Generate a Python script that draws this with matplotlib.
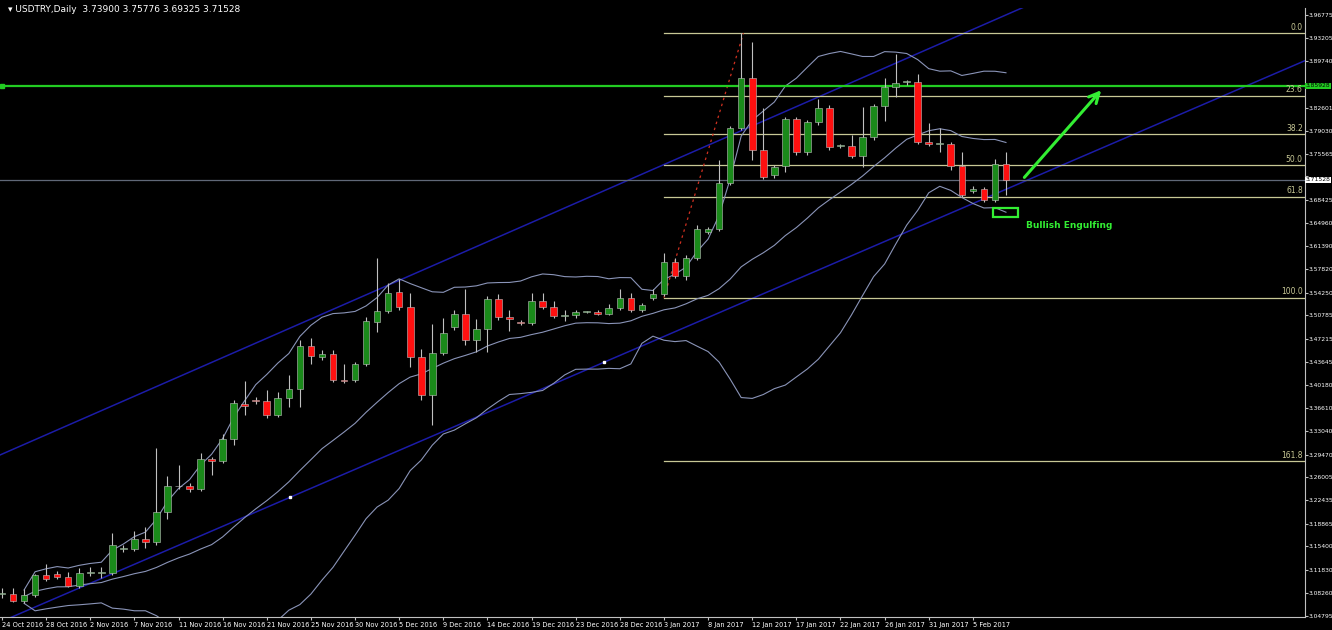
import matplotlib
matplotlib.use("Agg")
import matplotlib.pyplot as plt
import numpy as np
import pandas as pd

# USDTRY daily candles (bar 0 = 24 Oct 2016)
opens = [3.081, 3.081, 3.070, 3.079, 3.110, 3.112, 3.107, 3.093, 3.113, 3.113,
         3.113, 3.150, 3.150, 3.165, 3.161, 3.207, 3.246, 3.246, 3.242, 3.288,
         3.285, 3.318, 3.372, 3.378, 3.377, 3.355, 3.381, 3.395, 3.461, 3.444,
         3.449, 3.409, 3.409, 3.433, 3.498, 3.514, 3.543, 3.521, 3.444, 3.386,
         3.450, 3.490, 3.510, 3.470, 3.487, 3.533, 3.505, 3.498, 3.496, 3.530,
         3.521, 3.507, 3.508, 3.513, 3.513, 3.510, 3.519, 3.534, 3.516, 3.534,
         3.540, 3.590, 3.568, 3.595, 3.635, 3.640, 3.710, 3.795, 3.871, 3.761,
         3.723, 3.737, 3.808, 3.758, 3.804, 3.825, 3.767, 3.767, 3.752, 3.781,
         3.829, 3.858, 3.865, 3.865, 3.773, 3.770, 3.770, 3.737, 3.698, 3.701,
         3.685, 3.739]
highs = [3.090, 3.090, 3.089, 3.112, 3.127, 3.116, 3.115, 3.121, 3.122, 3.122,
         3.174, 3.156, 3.177, 3.184, 3.305, 3.262, 3.279, 3.251, 3.297, 3.291,
         3.326, 3.378, 3.407, 3.383, 3.393, 3.390, 3.416, 3.470, 3.473, 3.455,
         3.455, 3.433, 3.436, 3.505, 3.595, 3.557, 3.563, 3.542, 3.456, 3.494,
         3.504, 3.516, 3.548, 3.502, 3.537, 3.540, 3.516, 3.501, 3.542, 3.542,
         3.530, 3.516, 3.516, 3.514, 3.516, 3.525, 3.548, 3.542, 3.527, 3.548,
         3.603, 3.595, 3.600, 3.646, 3.643, 3.746, 3.798, 3.940, 3.926, 3.825,
         3.738, 3.811, 3.811, 3.807, 3.840, 3.830, 3.770, 3.784, 3.827, 3.832,
         3.871, 3.909, 3.868, 3.877, 3.802, 3.795, 3.773, 3.758, 3.706, 3.704,
         3.747, 3.758]
lows = [3.075, 3.069, 3.067, 3.076, 3.101, 3.104, 3.092, 3.090, 3.108, 3.105,
        3.110, 3.145, 3.147, 3.151, 3.156, 3.196, 3.242, 3.237, 3.239, 3.263,
        3.282, 3.309, 3.355, 3.372, 3.351, 3.352, 3.367, 3.367, 3.433, 3.440,
        3.406, 3.404, 3.406, 3.430, 3.482, 3.511, 3.516, 3.429, 3.378, 3.340,
        3.447, 3.485, 3.462, 3.452, 3.452, 3.501, 3.484, 3.493, 3.493, 3.518,
        3.504, 3.499, 3.504, 3.511, 3.508, 3.508, 3.516, 3.513, 3.513, 3.531,
        3.537, 3.565, 3.562, 3.593, 3.632, 3.637, 3.707, 3.792, 3.746, 3.717,
        3.719, 3.728, 3.753, 3.753, 3.799, 3.761, 3.764, 3.749, 3.735, 3.776,
        3.806, 3.842, 3.861, 3.770, 3.767, 3.758, 3.731, 3.689, 3.695, 3.682,
        3.682, 3.693]
closes = [3.082, 3.070, 3.079, 3.110, 3.104, 3.107, 3.093, 3.113, 3.114, 3.114,
          3.156, 3.151, 3.165, 3.161, 3.207, 3.246, 3.247, 3.242, 3.288, 3.285,
          3.318, 3.373, 3.369, 3.377, 3.355, 3.381, 3.395, 3.461, 3.446, 3.449,
          3.409, 3.408, 3.433, 3.499, 3.514, 3.542, 3.521, 3.444, 3.386, 3.450,
          3.481, 3.510, 3.470, 3.487, 3.533, 3.505, 3.502, 3.496, 3.530, 3.521,
          3.507, 3.508, 3.513, 3.513, 3.510, 3.519, 3.534, 3.516, 3.524, 3.540,
          3.590, 3.568, 3.595, 3.640, 3.640, 3.710, 3.795, 3.871, 3.761, 3.720,
          3.735, 3.808, 3.758, 3.804, 3.825, 3.766, 3.768, 3.752, 3.781, 3.829,
          3.858, 3.864, 3.866, 3.773, 3.770, 3.771, 3.737, 3.692, 3.701, 3.685,
          3.739, 3.71528]

date_labels = ["24 Oct 2016", "28 Oct 2016", "2 Nov 2016", "7 Nov 2016", "11 Nov 2016",
               "16 Nov 2016", "21 Nov 2016", "25 Nov 2016", "30 Nov 2016", "5 Dec 2016",
               "9 Dec 2016", "14 Dec 2016", "19 Dec 2016", "23 Dec 2016", "28 Dec 2016",
               "3 Jan 2017", "8 Jan 2017", "12 Jan 2017", "17 Jan 2017", "22 Jan 2017",
               "26 Jan 2017", "31 Jan 2017", "5 Feb 2017"]
price_ticks = [3.96775, 3.93205, 3.89740, 3.86260, 3.82601, 3.79030, 3.75565, 3.72100,
               3.68425, 3.64960, 3.61390, 3.57820, 3.54250, 3.50785, 3.47215, 3.43645,
               3.40180, 3.36610, 3.33040, 3.29470, 3.26005, 3.22435, 3.18865, 3.15400,
               3.11830, 3.08260, 3.04795]
hidden_ticks = [3.86260, 3.72100]  # covered by the price boxes

fib_levels = [0.0, 23.6, 38.2, 50.0, 61.8, 100.0, 161.8]
fib_high, fib_low = 3.940, 3.535
resistance = 3.85928
last_price = 3.71528

df = pd.DataFrame({"o": opens, "h": highs, "l": lows, "c": closes})
x = np.arange(len(df))

BG = "black"
fig = plt.figure(figsize=(13.32, 6.3), dpi=100, facecolor=BG)
ax = fig.add_axes([0.0, 0.0206, 0.9797, 0.9667], facecolor=BG)
ax.set_xlim(-0.18, 118.1)
ax.set_ylim(3.0458, 3.9787)

# channel lines
ax.plot([-0.18, 118.1], [3.038, 3.898], color="#1c1ca8", lw=1.1, zorder=1)
ax.plot([-0.18, 94.1], [3.294, 3.991], color="#1c1ca8", lw=1.1, zorder=1)
ax.plot([26.1, 54.6], [3.229, 3.436], "s", color="white", ms=2, zorder=2)

# bollinger bands
mid = df["c"].rolling(20, min_periods=3).mean()
sd = df["c"].rolling(20, min_periods=3).std(ddof=0)
for band in (mid, mid + 2 * sd, mid - 2 * sd):
    ax.plot(x, band, color="#8a94b8", lw=0.8, zorder=2)

# fibonacci levels
span = fib_high - fib_low
for lv in fib_levels:
    yv = fib_high - span * lv / 100
    ax.plot([60, 118.1], [yv, yv], color="#c8c896", lw=0.9, zorder=1)
    ax.text(117.9, yv + 0.002, f"{lv:.1f}", color="#c8c896", fontsize=5.5,
            ha="right", va="bottom", zorder=3)
ax.plot([60, 67.2], [fib_low, fib_high], color="#d03020", lw=0.9, ls=(0, (2, 3)), zorder=2)

# horizontal lines
ax.axhline(resistance, color="#22cc22", lw=1.6, zorder=2)
ax.plot([0], [resistance], "s", color="#22cc22", ms=3, zorder=3, clip_on=False)
ax.axhline(last_price, color="#606878", lw=0.9, zorder=1)

# candles
up = df["c"] >= df["o"]
ax.vlines(x, df["l"], df["h"], color="#c0c0c0", lw=0.8, zorder=3)
body = (df["c"] - df["o"]).abs().clip(lower=0.0012)
ax.bar(x[up], body[up], bottom=df["o"][up], width=0.6, color="#1a8a1a",
       edgecolor="#c0c0c0", lw=0.4, zorder=4)
ax.bar(x[~up], body[~up], bottom=df["c"][~up], width=0.6, color="#ff1010",
       edgecolor="#c0c0c0", lw=0.4, zorder=4)

# annotations
ax.annotate("", xy=(99.8, 3.856), xytext=(92.5, 3.716),
            arrowprops=dict(arrowstyle="->", color="#33ee33", lw=2.2, mutation_scale=18), zorder=5)
ax.add_patch(plt.Rectangle((89.8, 3.6586), 2.3, 0.0139, fill=False, ec="#33ee33", lw=1.6, zorder=5))
ax.text(92.8, 3.645, "Bullish Engulfing", color="#33ee33", fontsize=6.5,
        fontweight="bold", ha="left", va="center", zorder=5)

ax.text(0.006, 0.992, "\u25be USDTRY,Daily  3.73900 3.75776 3.69325 3.71528",
        transform=fig.transFigure, color="white", fontsize=6.5, ha="left", va="top")

# axes styling
for s in ("left", "top"):
    ax.spines[s].set_visible(False)
for s in ("right", "bottom"):
    ax.spines[s].set_color("#c0c0c0")
ax.yaxis.tick_right()
ax.set_yticks(price_ticks)
ax.set_yticklabels(["" if p in hidden_ticks else f"{p:.5f}" for p in price_ticks])
ax.set_xticks(x[::4][:len(date_labels)])
ax.set_xticklabels(date_labels, ha="left")
ax.tick_params(axis="x", colors="#c0c0c0", labelcolor="white", labelsize=4.8, length=2.5, pad=1)
ax.tick_params(axis="y", colors="#c0c0c0", labelcolor="white", labelsize=4.3, length=2, pad=0.5)

ax.text(1.0005, resistance, "3.85928", transform=ax.get_yaxis_transform(), fontsize=4.3,
        color="black", va="center", ha="left",
        bbox=dict(boxstyle="square,pad=0.1", fc="#22cc22", ec="none"), clip_on=False)
ax.text(1.0005, last_price, "3.71528", transform=ax.get_yaxis_transform(), fontsize=4.3,
        color="black", va="center", ha="left",
        bbox=dict(boxstyle="square,pad=0.1", fc="white", ec="none"), clip_on=False)

fig.savefig("out.png", dpi=100, facecolor=BG)
